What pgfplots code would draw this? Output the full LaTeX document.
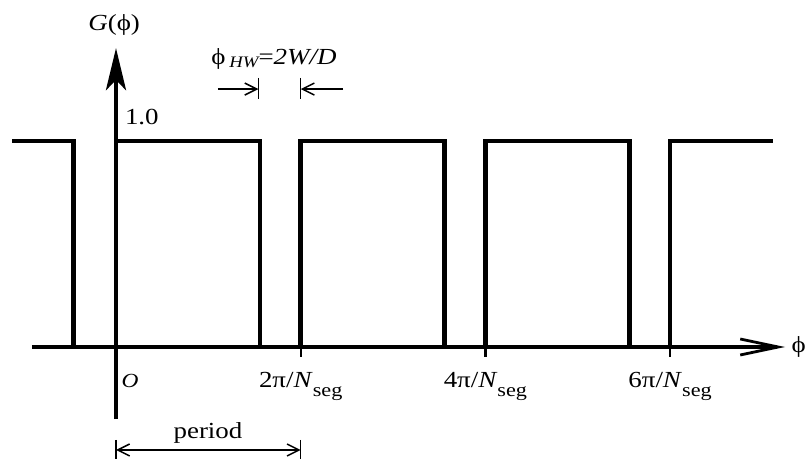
\documentclass[border=0pt]{standalone}
\usepackage{fontspec}
\setmainfont{Liberation Serif}[FakeStretch=1.17]
\usepackage{pgfplots}
\pgfplotsset{compat=1.18}
\usetikzlibrary{arrows.meta}

\newcommand\gph{\char"03D5\relax}
\newcommand\gpi{\char"03C0\relax}
\newcommand\sub[2][-4.5pt]{\raisebox{#1}{\fontsize{9.5}{10}\selectfont #2}}

\begin{document}
\begin{tikzpicture}[font=\fontsize{11.5}{13}\selectfont]
\begin{axis}[
  scale only axis,
  width=403.5pt, height=229.5pt,
  xmin=-0.628, xmax=3.741,
  ymin=-0.5437, ymax=1.6845,
  hide axis,
  clip=false,
]
% periodic gate function G(phi), x in units of 2pi/N_seg
\addplot[line width=2.3pt, line join=miter, line cap=butt] coordinates {
  (-0.563,1) (-0.23,1) (-0.23,0) (0,0) (0,1) (0.78,1) (0.78,0) (1,0)
  (1,1) (1.78,1) (1.78,0) (2,0) (2,1) (2.78,1) (2.78,0) (3,0) (3,1) (3.557,1)
};

% coordinate axes
\draw[line width=2.2pt, -{Straight Barb[length=19pt,width=8pt,line width=1.4pt]}]
  (axis cs:-0.455,0) -- (axis cs:3.622,0);
\draw[line width=2.2pt, -{Stealth[length=21pt,width=10pt,inset=5pt]}]
  (axis cs:0,-0.35) -- (axis cs:0,1.451);

% ticks on the phi axis
\draw[line width=1.1pt] (axis cs:1,0) -- (axis cs:1,-0.0485);
\draw[line width=1.1pt] (axis cs:2,0) -- (axis cs:2,-0.0485);
\draw[line width=1.1pt] (axis cs:3,0) -- (axis cs:3,-0.0485);
\node[anchor=base] at (axis cs:1,-0.199) {2\gpi/\textit{N}\sub{seg}};
\node[anchor=base] at (axis cs:2,-0.199) {4\gpi/\textit{N}\sub{seg}};
\node[anchor=base] at (axis cs:3,-0.199) {6\gpi/\textit{N}\sub{seg}};

\node[anchor=base] at (axis cs:0.076,-0.195) {\fontsize{10}{11}\selectfont\itshape O};
\node[anchor=base] at (axis cs:0.14,1.08) {1.0};
\node at (axis cs:-0.01,1.563) {\textit{G}(\gph)};
\node[anchor=west, inner sep=0pt] at (axis cs:3.655,0) {\gph};

% half-width of the gap
\node[anchor=base] at (axis cs:0.855,1.369) {\gph\,\sub[-1.5pt]{\fontsize{8}{9}\selectfont\itshape HW}=\textit{2W/D}};
\draw[line width=0.75pt, -{Straight Barb[length=6pt,width=6pt]}]
  (axis cs:0.552,1.252) -- (axis cs:0.771,1.252);
\draw[line width=0.75pt] (axis cs:0.771,1.306) -- (axis cs:0.771,1.204);
\draw[line width=0.75pt, -{Straight Barb[length=6pt,width=6pt]}]
  (axis cs:1.229,1.252) -- (axis cs:1.0,1.252);
\draw[line width=0.75pt] (axis cs:1.0,1.306) -- (axis cs:1.0,1.204);

% period marker
\node[anchor=base] at (axis cs:0.498,-0.442) {period};
\draw[line width=0.75pt, {Straight Barb[length=6pt,width=6pt]}-{Straight Barb[length=6pt,width=6pt]}]
  (axis cs:0,-0.5) -- (axis cs:1,-0.5);
\draw[line width=0.75pt] (axis cs:0,-0.451) -- (axis cs:0,-0.5437);
\draw[line width=0.75pt] (axis cs:1,-0.451) -- (axis cs:1,-0.5437);
\end{axis}
\pgfresetboundingbox
\path (current axis.south west) rectangle (current axis.north east);
\end{tikzpicture}
\end{document}
